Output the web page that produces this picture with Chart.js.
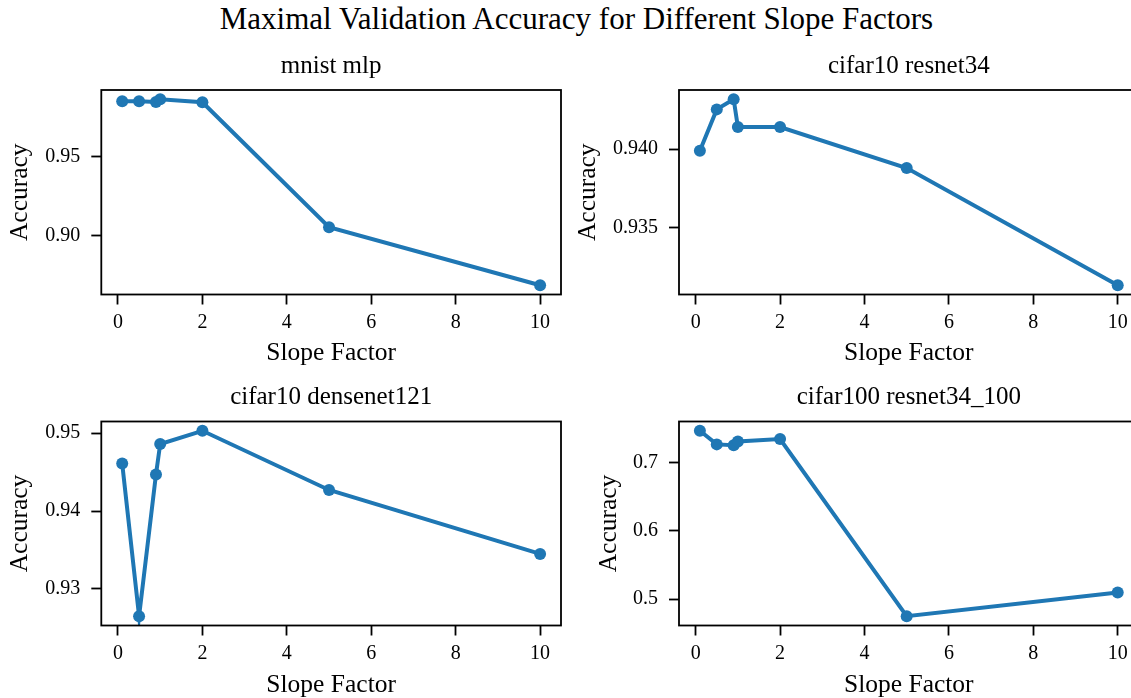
<!DOCTYPE html>
<html>
<head>
<meta charset="utf-8">
<script src="https://cdn.jsdelivr.net/npm/chart.js@4.4.1/dist/chart.umd.min.js"></script>
<style>
  html, body { margin: 0; padding: 0; background: #fff; }
  #figure { position: relative; width: 1131px; height: 698px; overflow: hidden; background: #fff; }
  #suptitle {
    position: absolute; left: 0; top: -1px; width: 1153px; text-align: center;
    font: 31px/40px "Liberation Serif", "Times New Roman", serif; color: #000; white-space: nowrap;
  }
  canvas { position: absolute; }
</style>
</head>
<body>
<div id="figure">
  <div id="suptitle">Maximal Validation Accuracy for Different Slope Factors</div>
  <canvas id="mnistChart"></canvas>
  <canvas id="resnet34Chart"></canvas>
  <canvas id="densenetChart"></canvas>
  <canvas id="resnet100Chart"></canvas>
</div>
<script>
const slopeFactors = [0.1, 0.5, 0.9, 1, 2, 5, 10];
const mnistMlpAcc = [0.9852, 0.9852, 0.9848, 0.9865, 0.9846, 0.9055, 0.8688];
const cifar10Resnet34Acc = [0.93989, 0.94252, 0.94316, 0.9414, 0.9414, 0.9388, 0.93136];
const cifar10DensenetAcc = [0.9461, 0.9265, 0.9447, 0.9486, 0.9503, 0.9427, 0.9345];
const cifar100ResnetAcc = [0.7463, 0.7264, 0.7253, 0.7307, 0.7341, 0.4751, 0.5098];

const slopeTicks = ["0", "2", "4", "6", "8", "10"];
const mnistTicks = ["0.90", "0.95"];
const resnet34Ticks = ["0.935", "0.940"];
const densenetTicks = ["0.93", "0.94", "0.95"];
const resnet100Ticks = ["0.5", "0.6", "0.7"];

const lineBlue = "#1f77b4";
const serif = "'Liberation Serif', 'Times New Roman', serif";

Chart.defaults.font.family = serif;
Chart.defaults.color = "#000";

// page-pixel layout of each subplot
const panels = [
  {
    id: "mnistChart", title: "mnist mlp", values: mnistMlpAcc, yTicks: mnistTicks,
    box: { x: 0, y: 40, w: 575, h: 340 },
    area: { left: 101.3, top: 90, right: 561, bottom: 294.5 },
    titleY: 66.5, yLabelX: 20.5, xLabelY: 353.5,
  },
  {
    id: "resnet34Chart", title: "cifar10 resnet34", values: cifar10Resnet34Acc, yTicks: resnet34Ticks,
    box: { x: 565, y: 40, w: 590, h: 340 },
    area: { left: 679, top: 90, right: 1138.6, bottom: 294.5 },
    titleY: 66.5, yLabelX: 588, xLabelY: 353.5,
  },
  {
    id: "densenetChart", title: "cifar10 densenet121", values: cifar10DensenetAcc, yTicks: densenetTicks,
    box: { x: 0, y: 370, w: 575, h: 328 },
    area: { left: 101.3, top: 421.5, right: 561, bottom: 625.5 },
    titleY: 397.5, yLabelX: 20.5, xLabelY: 685,
  },
  {
    id: "resnet100Chart", title: "cifar100 resnet34_100", values: cifar100ResnetAcc, yTicks: resnet100Ticks,
    box: { x: 565, y: 370, w: 590, h: 328 },
    area: { left: 679, top: 421.5, right: 1138.6, bottom: 625.5 },
    titleY: 397.5, yLabelX: 608.8, xLabelY: 685,
  },
];

const framePlugin = {
  id: "frame",
  afterDatasetsDraw(chart) {
    const { ctx, chartArea: a } = chart;
    ctx.save();
    ctx.strokeStyle = "#000";
    ctx.lineWidth = 1.8;
    ctx.strokeRect(a.left, a.top, a.right - a.left, a.bottom - a.top);
    ctx.restore();
  },
};

function paddedRange(values) {
  const lo = Math.min(...values);
  const hi = Math.max(...values);
  const pad = (hi - lo) * 0.05;
  return { min: lo - pad, max: hi + pad };
}

function tickMarks() {
  return { drawOnChartArea: false, tickLength: 10, tickWidth: 1.8, tickColor: "#000", color: "#000" };
}

function initPanel(p) {
  const canvas = document.getElementById(p.id);
  canvas.width = p.box.w;
  canvas.height = p.box.h;
  canvas.style.left = p.box.x + "px";
  canvas.style.top = p.box.y + "px";

  const titleLh = 30;
  const titlePadTop = p.titleY - p.box.y - titleLh / 2;
  const titlePadBottom = p.area.top - p.box.y - titlePadTop - titleLh;
  const xAxisHeight = p.box.y + p.box.h - p.area.bottom;
  const yAxisWidth = p.area.left - p.box.x;
  const xRange = paddedRange(slopeFactors);
  const yRange = paddedRange(p.values);

  new Chart(canvas, {
    type: "line",
    data: {
      datasets: [
        {
          data: slopeFactors.map((x, i) => ({ x, y: p.values[i] })),
          borderColor: lineBlue,
          backgroundColor: lineBlue,
          borderWidth: 4,
          pointRadius: 6,
          pointBorderWidth: 0,
          pointBackgroundColor: lineBlue,
          tension: 0,
        },
      ],
    },
    options: {
      responsive: false,
      animation: false,
      layout: { padding: { left: 0, top: 0, bottom: 0, right: p.box.x + p.box.w - p.area.right } },
      plugins: {
        legend: { display: false },
        tooltip: { enabled: false },
        title: {
          display: true,
          text: p.title,
          fullSize: false,
          color: "#000",
          font: { size: 25, weight: "normal", lineHeight: 1.2 },
          padding: { top: titlePadTop, bottom: titlePadBottom },
        },
      },
      scales: {
        x: {
          type: "linear",
          min: xRange.min,
          max: xRange.max,
          afterBuildTicks: (s) => { s.ticks = slopeTicks.map((t) => ({ value: Number(t) })); },
          afterFit: (s) => { s.height = xAxisHeight; },
          grid: tickMarks(),
          border: { display: false },
          ticks: {
            autoSkip: false, maxRotation: 0, padding: 6.5, color: "#000",
            font: { size: 20 },
            callback: (v, i) => slopeTicks[i],
          },
          title: {
            display: true, text: "Slope Factor", color: "#000",
            font: { size: 25.5, lineHeight: 1.2 },
            padding: { top: 0, bottom: p.box.y + p.box.h - p.xLabelY - 15.3 },
          },
        },
        y: {
          type: "linear",
          min: yRange.min,
          max: yRange.max,
          afterBuildTicks: (s) => { s.ticks = p.yTicks.map((t) => ({ value: Number(t) })); },
          afterFit: (s) => { s.width = yAxisWidth; },
          grid: tickMarks(),
          border: { display: false },
          ticks: {
            autoSkip: false, padding: 11, color: "#000",
            font: { size: 20 },
            callback: (v, i) => p.yTicks[i],
          },
          title: {
            display: true, text: "Accuracy", color: "#000",
            font: { size: 25.5, lineHeight: 1.2 },
            padding: { top: p.yLabelX - p.box.x - 15.3, bottom: 0 },
          },
        },
      },
    },
    plugins: [framePlugin],
  });
}

panels.forEach(initPanel);
</script>
</body>
</html>
